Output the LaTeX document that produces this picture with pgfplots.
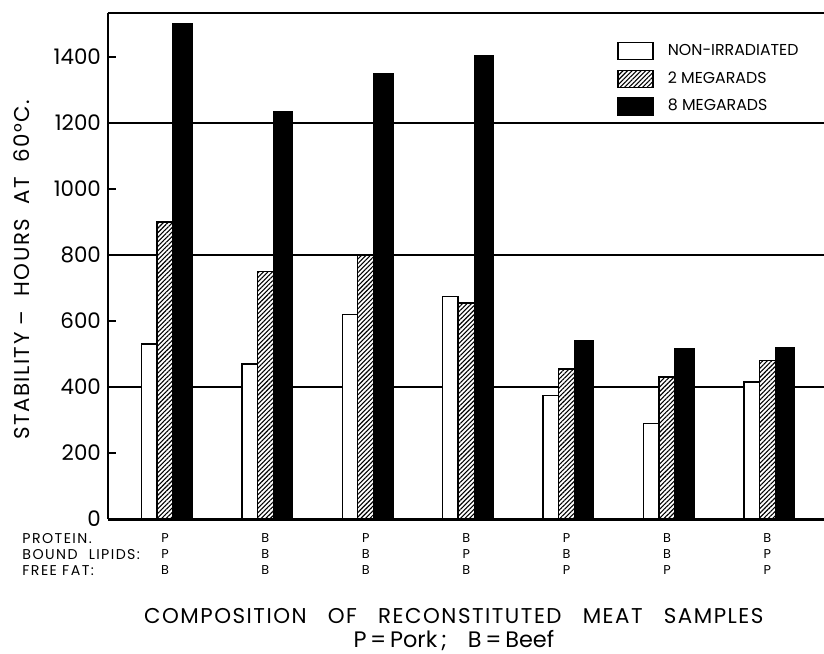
\documentclass[border=0pt]{standalone}
\usepackage{fontspec}
\setmainfont{Poppins}
\newfontfamily\spaced[LetterSpace=7]{Poppins}
\newfontfamily\spacedb[LetterSpace=10]{Poppins}
\usepackage{pgfplots}
\pgfplotsset{compat=1.18}
\usetikzlibrary{patterns.meta}
\pgfplotsset{mylegend/.style={legend image code/.code={\draw[##1] (0pt,-4.25pt) rectangle (17.5pt,4.25pt);}}}
\begin{document}
\begin{tikzpicture}
\begin{axis}[
 name=a, clip=false,
 scale only axis, width=358pt, height=253pt,
 xmin=0.432, xmax=7.564, ymin=0, ymax=1533,
 axis lines*=left, axis line style={-},
 x axis line style={line width=1.5pt},
 y axis line style={line width=1pt},
 ytick={0,200,...,1400},
 tick align=inside, major tick length=4pt,
 ytick style={line width=0.8pt, black},
 xtick={1,...,7}, xtick style={draw=none},
 xticklabels={{P\\P\\B},{B\\B\\B},{P\\B\\B},{B\\P\\B},{P\\B\\P},{B\\B\\P},{B\\P\\P}},
 xticklabel style={align=center, font=\fontsize{6.4}{8}\selectfont, inner sep=2pt, yshift=-5pt},
 yticklabel style={font=\fontsize{10.7}{12}\selectfont},
 /pgf/number format/assume math mode=true,
 /pgf/number format/1000 sep={},
 extra y ticks={400,800,1200}, extra y tick labels={},
 extra y tick style={grid=major, major grid style={black, line width=0.7pt}},
 legend style={draw=none, fill=none, at={(rel axis cs:0.711,0.947)}, anchor=north west,
   font=\fontsize{7.9}{9}\selectfont, row sep=2.6pt, inner sep=0pt,
   /tikz/every odd column/.append style={column sep=5pt}},
 legend cell align=left,
]
\addplot[ybar, bar width=0.155, bar shift=-0.1575, draw=black, fill=white, line width=0.7pt, mylegend]
 coordinates {(1,530) (2,470) (3,620) (4,675) (5,375) (6,290) (7,415)};
\addlegendentry{NON-IRRADIATED}
\addplot[ybar, bar width=0.16, bar shift=0, draw=black, line width=0.7pt, preaction={fill=white},
 pattern={Lines[angle=45,distance=1.6pt,line width=0.55pt]}, mylegend]
 coordinates {(1,900) (2,750) (3,800) (4,655) (5,455) (6,430) (7,480)};
\addlegendentry{2 MEGARADS}
\addplot[ybar, bar width=0.19, bar shift=0.175, draw=black, fill=black, line width=0.7pt, mylegend]
 coordinates {(1,1500) (2,1235) (3,1350) (4,1405) (5,540) (6,515) (7,520)};
\addlegendentry{8 MEGARADS}
\draw[line width=1.2pt] (rel axis cs:0,1) -- (rel axis cs:1,1);
\node[anchor=north west, align=left, font=\fontsize{7.1}{8}\spacedb, inner sep=2pt, xshift=-45pt, yshift=-5pt]
 at (rel axis cs:0,0) {PROTEIN.\\BOUND\hspace{3pt} LIPIDS:\\FREE FAT:};
\node[rotate=90, font=\fontsize{10.7}{12}\spaced] at (axis description cs:-0.121,0.492) {STABILITY \textendash\hspace{3.5pt} HOURS\hspace{3.5pt} AT\hspace{3.5pt} 60°C.};
\node[font=\fontsize{10.7}{12}\spaced] at (axis description cs:0.483,-0.192) {COMPOSITION\hspace{7pt} OF\hspace{7pt} RECONSTITUTED\hspace{7pt} MEAT\hspace{7pt} SAMPLES};
\node[font=\fontsize{11.2}{12}\selectfont] at (axis description cs:0.483,-0.241) {P\,=\,Pork\,;\enspace\, B\,=\,Beef};
\end{axis}
\pgfresetboundingbox
\path ([xshift=-54pt,yshift=-67pt]a.south west) rectangle ([yshift=6.5pt]a.north east);
\end{tikzpicture}
\end{document}
